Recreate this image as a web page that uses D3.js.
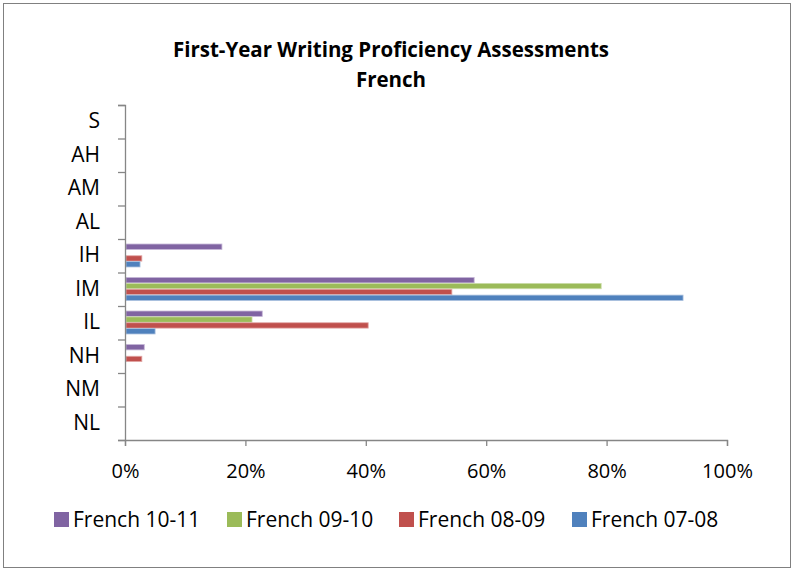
<!DOCTYPE html>
<html>
<head>
<meta charset="utf-8">
<script src="https://cdn.jsdelivr.net/npm/d3@7"></script>
<style>
  body { margin: 0; background: #fff; }
  svg text { font-family: "Open Sans", Lato, sans-serif; fill: #000; }
</style>
</head>
<body>
<div id="chart"></div>
<script>
const width = 794;
const height = 571;

// proficiency levels, bottom to top as in the source sheet
const levels = ["NL", "NM", "NH", "IL", "IM", "IH", "AL", "AM", "AH", "S"];
const seriesNames = ["French 10-11", "French 09-10", "French 08-09", "French 07-08"];
const seriesColors = ["#8064A2", "#9BBB59", "#C0504D", "#4F81BD"];
const strokeColors = ["#C4B5D6", "#CCDDAA", "#E2A9A7", "#A9C0DE"];

// percent of students per level
const french1011 = [0, 0, 3.2, 22.8, 58.0, 16.1, 0, 0, 0, 0];
const french0910 = [0, 0, 0, 21.1, 79.1, 0, 0, 0, 0, 0];
const french0809 = [0, 0, 2.8, 40.4, 54.3, 2.8, 0, 0, 0, 0];
const french0708 = [0, 0, 0, 5.0, 92.7, 2.5, 0, 0, 0, 0];
const seriesValues = [french1011, french0910, french0809, french0708];

const xTicks = [0, 0.2, 0.4, 0.6, 0.8, 1];

const plot = {left: 125, right: 727, top: 105, bottom: 440};

let svg = d3.select("#chart").append("svg")
  .attr("width", width)
  .attr("height", height);

svg.append("rect")
  .attr("x", 3.5).attr("y", 3.5)
  .attr("width", 787).attr("height", 564)
  .attr("fill", "#fff")
  .attr("stroke", "#808080");

// title
let title = svg.append("text")
  .attr("text-anchor", "middle")
  .style("font-weight", "bold")
  .style("font-size", "20.5px");
title.append("tspan").attr("x", 391).attr("y", 57).text("First-Year Writing Proficiency  Assessments");
title.append("tspan").attr("x", 391).attr("y", 87).text("French");

let x = d3.scaleLinear()
  .domain([0, 1])
  .range([plot.left, plot.right]);

let y = d3.scaleBand()
  .domain(levels.slice().reverse())
  .range([plot.top, plot.bottom]);

let yInner = d3.scaleBand()
  .domain(seriesNames)
  .range([y.bandwidth() * 0.15, y.bandwidth() * 0.85]);

let yTickScale = d3.scaleLinear()
  .domain([0, levels.length])
  .range([plot.bottom, plot.top]);

// bars
let rows = [];
seriesNames.forEach((s, i) => {
  levels.forEach((lv, j) => {
    rows.push({series: s, level: lv, value: seriesValues[i][j] / 100, idx: i});
  });
});

svg.append("g")
  .selectAll("rect")
  .data(rows.filter(d => d.value > 0))
  .enter()
  .append("rect")
  .attr("x", x(0) + 1)
  .attr("y", d => y(d.level) + yInner(d.series))
  .attr("width", d => x(d.value) - x(0) - 1)
  .attr("height", yInner.bandwidth() - 0.5)
  .attr("fill", d => seriesColors[d.idx])
  .attr("stroke", d => strokeColors[d.idx])
  .attr("stroke-width", 0.8);

// y axis: ticks at band edges, labels at band centres
let gYTicks = svg.append("g")
  .attr("transform", "translate(" + plot.left + ",0)")
  .call(d3.axisLeft(yTickScale).ticks(levels.length).tickSize(7).tickFormat(""));

let gY = svg.append("g")
  .attr("transform", "translate(" + plot.left + ",0)")
  .call(d3.axisLeft(y).tickSize(0).tickPadding(25));
gY.select(".domain").remove();
gY.selectAll("text").style("font-size", "21px");

// x axis
let gX = svg.append("g")
  .attr("transform", "translate(0," + plot.bottom + ")")
  .call(d3.axisBottom(x).tickValues(xTicks).tickFormat(d3.format(".0%")).tickSize(6).tickPadding(18).tickSizeOuter(6));
gX.selectAll("text").style("font-size", "20px");

svg.selectAll(".domain, .tick line")
  .attr("stroke", "#868686")
  .attr("stroke-width", 1.3);

// legend
const legendX = [54, 227, 399, 572];
let legend = svg.append("g")
  .selectAll("g")
  .data(seriesNames)
  .enter()
  .append("g")
  .attr("transform", (d, i) => "translate(" + legendX[i] + ",512)");
legend.append("rect")
  .attr("width", 15).attr("height", 15)
  .attr("fill", (d, i) => seriesColors[i]);
legend.append("text")
  .attr("x", 19).attr("y", 14.5)
  .style("font-size", "21px")
  .text(d => d);
</script>
</body>
</html>
